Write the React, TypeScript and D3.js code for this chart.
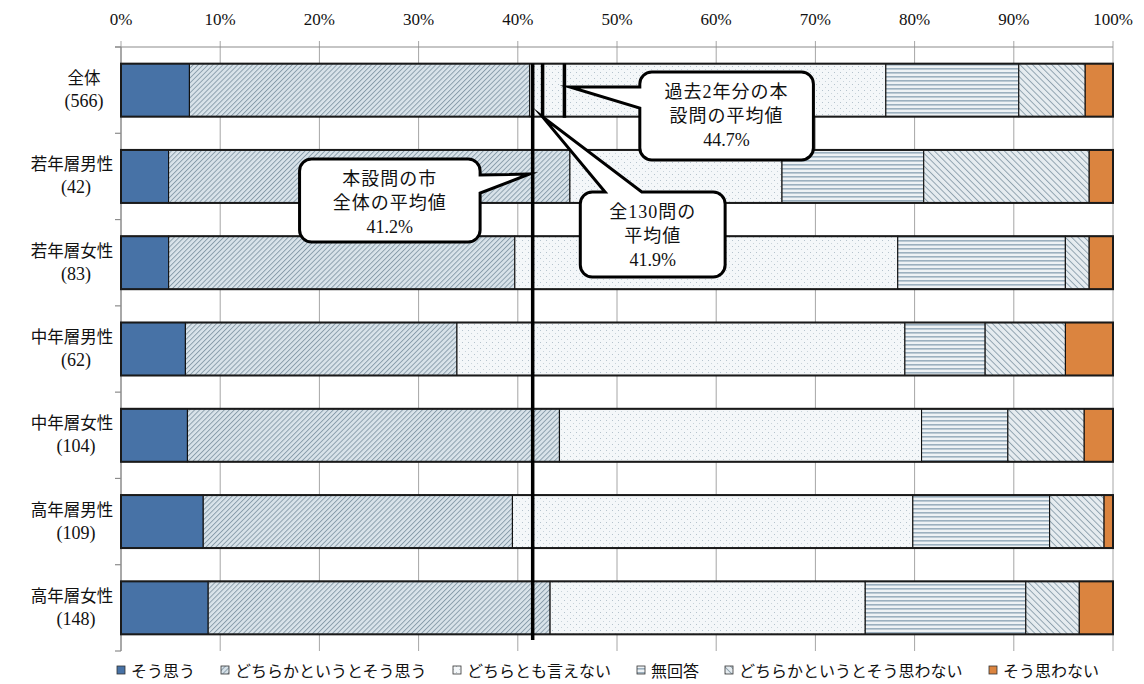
import React, { useMemo } from 'react';
import * as d3 from 'd3';

// ---- data (percent of respondents) ----
const categories = ['全体', '若年層男性', '若年層女性', '中年層男性', '中年層女性', '高年層男性', '高年層女性'];
const sampleSizes = [566, 42, 83, 62, 104, 109, 148];
const seriesNames = ['そう思う', 'どちらかというとそう思う', 'どちらとも言えない', '無回答', 'どちらかというとそう思わない', 'そう思わない'];
const soOmou = [6.9, 4.8, 4.8, 6.5, 6.7, 8.3, 8.8];
const dochiraSoOmou = [34.3, 40.5, 34.9, 27.4, 37.5, 31.2, 34.5];
const dochiraMo = [35.9, 21.4, 38.6, 45.2, 36.5, 40.4, 31.8];
const muKaito = [13.4, 14.3, 16.9, 8.1, 8.7, 13.8, 16.2];
const dochiraOmowanai = [6.7, 16.7, 2.4, 8.1, 7.7, 5.5, 5.4];
const soOmowanai = [2.8, 2.4, 2.4, 4.8, 2.9, 0.9, 3.4];
const tickValues = [0, 10, 20, 30, 40, 50, 60, 70, 80, 90, 100];
const tickLabels = ['0%', '10%', '20%', '30%', '40%', '50%', '60%', '70%', '80%', '90%', '100%'];
// reference lines (drawn positions in %) and their labels
const refLinePositions = [41.5, 42.5, 44.7];
const refLabels = [
  ['本設問の市', '全体の平均値', '41.2%'],
  ['全130問の', '平均値', '41.9%'],
  ['過去2年分の本', '設問の平均値', '44.7%'],
];

const JP = "'Noto Sans CJK JP', sans-serif";
const MIX = "'Liberation Serif', 'Noto Sans CJK JP', serif";

const fills = ['#4772A6', 'url(#pHatchA)', 'url(#pDots)', 'url(#pStripes)', 'url(#pHatchB)', '#DB843F'];

function calloutPath(bx0: number, by0: number, bx1: number, by1: number, r: number,
  side: string, p: number, q: number, tip: [number, number]) {
  let d = `M${bx0 + r},${by0}`;
  if (side === 'top') d += `L${p},${by0}L${tip[0]},${tip[1]}L${q},${by0}`;
  d += `L${bx1 - r},${by0}A${r},${r} 0 0 1 ${bx1},${by0 + r}`;
  if (side === 'right') d += `L${bx1},${p}L${tip[0]},${tip[1]}L${bx1},${q}`;
  d += `L${bx1},${by1 - r}A${r},${r} 0 0 1 ${bx1 - r},${by1}`;
  d += `L${bx0 + r},${by1}A${r},${r} 0 0 1 ${bx0},${by1 - r}`;
  if (side === 'left') d += `L${bx0},${q}L${tip[0]},${tip[1]}L${bx0},${p}`;
  d += `L${bx0},${by0 + r}A${r},${r} 0 0 1 ${bx0 + r},${by0}Z`;
  return d;
}

export default function App() {
  const W = 1144, H = 684;
  const x = d3.scaleLinear().domain([0, 100]).range([121, 1113]);
  const y = d3.scaleBand<string>().domain(categories).range([47, 651]).paddingInner(0.386).paddingOuter(0.193);
  const yRow = d3.scaleLinear().domain([0, categories.length]).range([47, 651]);

  const rows = categories.map((c, i) => ({
    cat: c,
    k0: soOmou[i], k1: dochiraSoOmou[i], k2: dochiraMo[i], k3: muKaito[i], k4: dochiraOmowanai[i], k5: soOmowanai[i],
  }));
  const keys = ['k0', 'k1', 'k2', 'k3', 'k4', 'k5'];
  const stacked = d3.stack<any>().keys(keys).offset(d3.stackOffsetExpand)(rows);

  const bw = y.bandwidth();

  // legend layout
  const legendItems = useMemo(() => {
    const canvas = document.createElement('canvas');
    const ctx = canvas.getContext('2d')!;
    ctx.font = "16px 'Noto Sans CJK JP'";
    let cx = 117;
    return seriesNames.map((n, i) => {
      const w = ctx.measureText(n).width;
      const item = { name: n, x: cx, fill: fills[i] };
      cx += 14 + w + 26;
      return item;
    });
  }, []);

  // callouts in data units (x in %, y in row units)
  const callouts = [
    { lines: refLabels[0], x0: 18.0, x1: 36.2, y0: 1.298, y1: 2.26, side: 'right', p: 1.483, q: 1.692, tip: [refLinePositions[0] - 0.3, 1.472] },
    { lines: refLabels[1], x0: 46.3, x1: 60.9, y0: 1.68, y1: 2.665, side: 'top', p: 48.8, q: 52.5, tip: [refLinePositions[1], 0.81] },
    { lines: refLabels[2], x0: 52.3, x1: 69.8, y0: 0.29, y1: 1.309, side: 'left', p: 0.4635, q: 0.707, tip: [refLinePositions[2] + 0.55, 0.4635] },
  ];
  const lineSpans = [
    [0.193, 6.872],
    [0.193, 0.81],
    [0.193, 0.82],
  ];

  return (
    <svg width={W} height={H} style={{ position: 'absolute', left: 0, top: 0, background: '#fff' }}>
      <defs>
        <pattern id="pHatchA" patternUnits="userSpaceOnUse" width="3.5" height="3.5" patternTransform="rotate(45)">
          <rect width="3.5" height="3.5" fill="#D9E3EA" />
          <line x1="0.5" y1="0" x2="0.5" y2="3.5" stroke="#8499A8" strokeWidth="0.9" />
        </pattern>
        <pattern id="pHatchB" patternUnits="userSpaceOnUse" width="4.5" height="4.5" patternTransform="rotate(-45)">
          <rect width="4.5" height="4.5" fill="#E6ECF0" />
          <line x1="0.5" y1="0" x2="0.5" y2="4.5" stroke="#8A9DAB" strokeWidth="0.9" />
        </pattern>
        <pattern id="pDots" patternUnits="userSpaceOnUse" width="6" height="6">
          <rect width="6" height="6" fill="#F4F7F9" />
          <rect x="0" y="0" width="1" height="1" fill="#B5C3CD" />
          <rect x="3" y="3" width="1" height="1" fill="#C8D3DA" />
        </pattern>
        <pattern id="pStripes" patternUnits="userSpaceOnUse" width="4" height="4">
          <rect width="4" height="4" fill="#EEF2F5" />
          <rect x="0" y="0" width="4" height="1.6" fill="#9CB0BF" />
        </pattern>
      </defs>

      {/* gridlines */}
      {tickValues.map(t => (
        <line key={'g' + t} x1={x(t)} x2={x(t)} y1={41} y2={651} stroke="#A6A6A6" strokeWidth={1} />
      ))}
      <line x1={115} x2={x(100)} y1={47} y2={47} stroke="#8C8C8C" strokeWidth={1.2} />
      <line x1={x(0)} x2={x(0)} y1={47} y2={651} stroke="#8C8C8C" strokeWidth={1.2} />
      {d3.range(categories.length + 1).map(k => (
        <line key={'lt' + k} x1={115} x2={x(0)} y1={yRow(k)} y2={yRow(k)} stroke="#8C8C8C" strokeWidth={1.2} />
      ))}
      {tickValues.map((t, i) => (
        <text key={'t' + t} x={x(t)} y={19} textAnchor="middle" dominantBaseline="central"
          fontFamily={MIX} fontSize={17} fill="#111">{tickLabels[i]}</text>
      ))}

      {/* bars */}
      {stacked.map((s, si) => (
        <g key={'s' + si}>
          {s.map((d: any, i: number) => (
            <rect key={i} x={x(d[0] * 100)} width={Math.max(0, x(d[1] * 100) - x(d[0] * 100))}
              y={y(categories[i])} height={bw} fill={fills[si]} stroke="#111" strokeWidth={1.1} />
          ))}
        </g>
      ))}
      {categories.map(c => (
        <rect key={'o' + c} x={x(0)} y={y(c)} width={x(100) - x(0)} height={bw} fill="none" stroke="#1a1a1a" strokeWidth={2} />
      ))}

      {/* category labels */}
      {categories.map((c, i) => {
        const n = `(${sampleSizes[i]})`;
        const blockW = c.length * 16;
        const cx = Math.min(84, 112 - blockW / 2);
        const cy = (y(c) as number) + bw / 2;
        return (
          <g key={'l' + c}>
            <text x={cx} y={cy - 13} textAnchor="middle" dominantBaseline="central" fontFamily={JP} fontSize={16.5} fill="#111">{c}</text>
            <text x={c.length > 2 ? cx + 4 : cx} y={cy + 11} textAnchor="middle" dominantBaseline="central" fontFamily={MIX} fontSize={18} fill="#111">{n}</text>
          </g>
        );
      })}

      {/* reference lines */}
      {refLinePositions.map((v, i) => (
        <line key={'r' + i} x1={x(v)} x2={x(v)} y1={yRow(lineSpans[i][0])} y2={yRow(lineSpans[i][1])} stroke="#000" strokeWidth={3.5} />
      ))}

      {/* callouts */}
      {callouts.map((c, i) => {
        const bx0 = x(c.x0), bx1 = x(c.x1), by0 = yRow(c.y0), by1 = yRow(c.y1);
        const p = c.side === 'top' ? x(c.p) : yRow(c.p);
        const q = c.side === 'top' ? x(c.q) : yRow(c.q);
        const tip: [number, number] = [x(c.tip[0]), yRow(c.tip[1])];
        const cx = (bx0 + bx1) / 2;
        return (
          <g key={'c' + i}>
            <path d={calloutPath(bx0, by0, bx1, by1, 12, c.side, p, q, tip)} fill="#fff" stroke="#000" strokeWidth={3} strokeLinejoin="miter" strokeMiterlimit={10} />
            {c.lines.map((ln, j) => (
              <text key={j} x={cx} y={by0 + 20 + j * 24} textAnchor="middle" dominantBaseline="central"
                fontFamily={MIX} fontSize={18} letterSpacing={j < 2 ? 1 : 0} fill="#111">{ln}</text>
            ))}
          </g>
        );
      })}

      {/* legend */}
      {legendItems.map((it, i) => (
        <g key={'lg' + i}>
          <rect x={it.x} y={666} width={8} height={8} fill={it.fill} stroke="#333" strokeWidth={0.8} />
          <text x={it.x + 14} y={670} dominantBaseline="central" fontFamily={JP} fontSize={16} fill="#111">{it.name}</text>
        </g>
      ))}
    </svg>
  );
}
